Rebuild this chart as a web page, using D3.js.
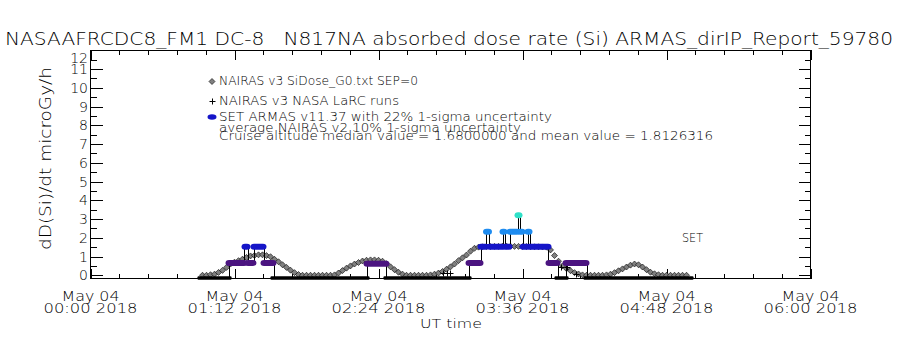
<!DOCTYPE html>
<html>
<head>
<meta charset="utf-8">
<script src="https://cdn.jsdelivr.net/npm/d3@7"></script>
<style>
  body { margin: 0; background: #fff; }
  svg { display: block; font-family: "DejaVu Sans", sans-serif; font-weight: 200; }
  text { white-space: pre; fill: #000; }
</style>
</head>
<body>
<div id="chart"></div>
<script>
// NAIRAS v3 SiDose_G0.txt SEP=0 (minutes after 00:00 UT, microGy/h)
const nairasT = [56, 58, 60, 62, 64, 66, 68, 70, 72, 74, 76, 78, 80, 82, 84, 86, 88, 90, 92, 94, 96, 98, 100, 102, 104, 106,
    108, 110, 112, 114, 116, 118, 120,
    122, 124, 126, 128, 130, 132, 134, 136, 138, 140, 142, 144, 146, 148, 150, 152, 154, 156, 158,
    160, 162, 164, 166, 168,
    170, 172, 174, 176, 178, 180, 182, 184, 186, 188, 190, 192, 194,
    196, 198, 200, 202, 204, 206, 208, 210, 212, 214, 216, 218, 220, 222, 224, 226, 228,
    230, 232, 234, 236, 238, 240, 242, 244, 246, 248,
    250, 252, 254, 256,
    258, 260, 262, 264, 266, 268, 270, 272, 274, 276, 278, 280, 282, 284, 286,
    288, 290, 292, 294, 296, 298];
const nairasV = [0, 0, 0.03, 0.06, 0.15, 0.26, 0.42, 0.6, 0.7, 0.78, 0.86, 0.95, 1.03, 1.06, 1.09, 1.09, 1.05, 0.99, 0.85, 0.72, 0.56, 0.42, 0.27, 0.14, 0.04, 0,
    0, 0, 0, 0, 0, 0, 0,
    0.02, 0.12, 0.25, 0.38, 0.5, 0.6, 0.68, 0.76, 0.8, 0.82, 0.82, 0.8, 0.75, 0.62, 0.45, 0.3, 0.16, 0.06, 0,
    0, 0, 0, 0, 0,
    0.02, 0.06, 0.12, 0.2, 0.32, 0.45, 0.6, 0.78, 0.93, 1.08, 1.28, 1.44, 1.5,
    1.52, 1.53, 1.53, 1.54, 1.54, 1.55, 1.55, 1.55, 1.54, 1.54, 1.53, 1.53, 1.52, 1.52, 1.52, 1.51, 1.5,
    1.35, 1.05, 0.75, 0.5, 0.35, 0.24, 0.14, 0.07, 0.02, 0,
    0, 0, 0, 0,
    0.02, 0.06, 0.14, 0.24, 0.34, 0.44, 0.54, 0.6, 0.56, 0.44, 0.3, 0.16, 0.08, 0.03, 0,
    0, 0, 0, 0, 0, 0];

// NAIRAS v3 NASA LaRC runs
const larcT = [176.5, 178, 179.5, 235, 238, 242.5];
const larcV = [0.12, 0.12, 0.12, 0.42, 0.42, 0.07];

// SET ARMAS readings, as runs of equal value (zero readings sit just under the axis)
const armasStart = [55, 69, 77, 78.5, 81.5, 86.5, 91.5, 138, 148, 189, 195, 197.75, 199.25, 206, 207, 209.5, 213.5, 214.5, 216, 218.5, 219.5, 229, 233.5, 237.5, 248];
const armasEnd = [69, 77, 78.5, 81.5, 86.5, 91.5, 138, 148, 189, 195, 197.75, 199.25, 206, 207, 209.5, 213.5, 214.5, 216, 218.5, 219.5, 229, 233.5, 237.5, 248, 300];
const armasV = [-0.15, 0.66, 1.52, 0.66, 1.52, 0.66, -0.15, 0.62, -0.15, 0.66, 1.52, 2.32, 1.52, 2.32, 1.52, 2.32, 3.2, 2.32, 1.52, 2.32, 1.52, 0.66, -0.15, 0.66, -0.15];

const xTickMin = [0, 72, 144, 216, 288, 360];
const xTickDate = ["May 04", "May 04", "May 04", "May 04", "May 04", "May 04"];
const xTickTime = ["00:00 2018", "01:12 2018", "02:24 2018", "03:36 2018", "04:48 2018", "06:00 2018"];
const yTicks = [0, 1, 2, 3, 4, 5, 6, 7, 8, 9, 10, 11, 12];

const legendText = [
    "NAIRAS v3 SiDose_G0.txt SEP=0",
    "NAIRAS v3 NASA LaRC runs",
    "SET ARMAS v11.37 with 22% 1-sigma uncertainty",
    "average NAIRAS v2 10% 1-sigma uncertainty",
    "Cruise altitude median value = 1.6800000 and mean value = 1.8126316"
];

const width = 900, height = 350;
const plotLeft = 90.5, plotRight = 810.5, plotTop = 50.25, plotBottom = 279;

const svg = d3.select('#chart').append('svg')
    .attr('width', width)
    .attr('height', height)
    .attr('viewBox', [0, 0, width, height]);

svg.append('rect').attr('width', width).attr('height', height).attr('fill', '#fff');

const defs = svg.append('defs');
const checker = defs.append('pattern')
    .attr('id', 'checker')
    .attr('patternUnits', 'userSpaceOnUse')
    .attr('width', 2).attr('height', 2);
checker.append('rect').attr('width', 2).attr('height', 2).attr('fill', '#fff');
checker.append('rect').attr('width', 1).attr('height', 1).attr('fill', '#000');
checker.append('rect').attr('x', 1).attr('y', 1).attr('width', 1).attr('height', 1).attr('fill', '#000');

const x = d3.scaleLinear().domain([0, 360]).range([plotLeft, plotRight]);
const y = d3.scaleLinear().domain([-0.2, 12]).range([plotBottom, plotTop]);
const level = d3.scaleThreshold()
    .domain([0, 1, 2, 3])
    .range(['#000000', '#4b1480', '#1515c8', '#1e8cf0', '#30e0c8']);

// title
svg.append('text')
    .attr('x', 5).attr('y', 45)
    .attr('font-size', 18)
    .attr('textLength', 888).attr('lengthAdjust', 'spacingAndGlyphs')
    .text('NASAAFRCDC8_FM1 DC-8   N817NA absorbed dose rate (Si) ARMAS_dirIP_Report_59780');

// axes (ticks pointing inward on all four sides)
const xMinor = d3.range(0, 360.1, 14.4);
const yMinor = d3.range(0.5, 12, 1);
const axes = svg.append('g').attr('shape-rendering', 'crispEdges');
const tickStyle = g => { g.select('.domain').remove(); g.selectAll('line').attr('stroke', '#000'); };

axes.append('g').attr('transform', `translate(0,${plotBottom})`)
    .call(d3.axisBottom(x).tickValues(xMinor).tickSize(-5).tickFormat('')).call(tickStyle);
axes.append('g').attr('transform', `translate(0,${plotBottom})`)
    .call(d3.axisBottom(x).tickValues(xTickMin).tickSize(-10).tickFormat('')).call(tickStyle);
axes.append('g').attr('transform', `translate(0,${plotTop})`)
    .call(d3.axisTop(x).tickValues(xMinor).tickSize(-5).tickFormat('')).call(tickStyle);
axes.append('g').attr('transform', `translate(0,${plotTop})`)
    .call(d3.axisTop(x).tickValues(xTickMin).tickSize(-10).tickFormat('')).call(tickStyle);
axes.append('g').attr('transform', `translate(${plotLeft},0)`)
    .call(d3.axisLeft(y).tickValues(yMinor).tickSize(-6).tickFormat('')).call(tickStyle);
axes.append('g').attr('transform', `translate(${plotLeft},0)`)
    .call(d3.axisLeft(y).tickValues(yTicks).tickSize(-12).tickFormat('')).call(tickStyle);
axes.append('g').attr('transform', `translate(${plotRight},0)`)
    .call(d3.axisRight(y).tickValues(yMinor).tickSize(-6).tickFormat('')).call(tickStyle);
axes.append('g').attr('transform', `translate(${plotRight},0)`)
    .call(d3.axisRight(y).tickValues(yTicks).tickSize(-12).tickFormat('')).call(tickStyle);

axes.append('rect')
    .attr('x', plotLeft).attr('y', plotTop + 0.25)
    .attr('width', plotRight - plotLeft).attr('height', plotBottom - plotTop - 0.5)
    .attr('fill', 'none').attr('stroke', '#000');

// y tick labels
svg.append('g').selectAll('text')
    .data(yTicks)
    .join('text')
    .attr('x', 88)
    .attr('y', d => Math.max(y(d), 57.5) + 5)
    .attr('text-anchor', 'end')
    .attr('font-size', 14)
    .text(d => d);

// x tick labels
const xl = svg.append('g').selectAll('g')
    .data(xTickMin)
    .join('g');
xl.append('text')
    .attr('x', d => x(d)).attr('y', 301)
    .attr('text-anchor', 'middle').attr('font-size', 13.5)
    .attr('textLength', 58).attr('lengthAdjust', 'spacingAndGlyphs')
    .text((d, i) => xTickDate[i]);
xl.append('text')
    .attr('x', d => x(d)).attr('y', 313)
    .attr('text-anchor', 'middle').attr('font-size', 13.5)
    .attr('textLength', 94).attr('lengthAdjust', 'spacingAndGlyphs')
    .text((d, i) => xTickTime[i]);

svg.append('text')
    .attr('x', 451).attr('y', 328)
    .attr('text-anchor', 'middle').attr('font-size', 13)
    .attr('textLength', 62).attr('lengthAdjust', 'spacingAndGlyphs')
    .text('UT time');

svg.append('text')
    .attr('transform', 'translate(51,158.5) rotate(-90)')
    .attr('text-anchor', 'middle').attr('font-size', 15)
    .attr('textLength', 183).attr('lengthAdjust', 'spacingAndGlyphs')
    .text('dD(Si)/dt microGy/h');

// NAIRAS diamonds: dithered fill with a thin outline
const diamond = 'M0,-3L3,0L0,3L-3,0Z';
svg.append('g').selectAll('path')
    .data(nairasT)
    .join('path')
    .attr('transform', (d, i) => `translate(${x(d)},${y(nairasV[i])})`)
    .attr('d', diamond)
    .attr('fill', 'url(#checker)')
    .attr('stroke', '#000')
    .attr('stroke-width', 0.6);

// NAIRAS LaRC runs
const plus = 'M-3,0H3M0,-3V3';
svg.append('g').selectAll('path')
    .data(larcT)
    .join('path')
    .attr('transform', (d, i) => `translate(${Math.round(x(d)) + 0.5},${Math.round(y(larcV[i])) + 0.5})`)
    .attr('d', plus)
    .attr('stroke', '#000').attr('fill', 'none');

// ARMAS connectors between consecutive readings
const runs = d3.range(armasV.length);
svg.append('g').selectAll('line')
    .data(runs.slice(1))
    .join('line')
    .attr('x1', i => Math.round(x(armasEnd[i - 1])) + 0.5)
    .attr('x2', i => Math.round(x(armasStart[i])) + 0.5)
    .attr('y1', i => y(armasV[i - 1]))
    .attr('y2', i => y(armasV[i]))
    .attr('stroke', '#000').attr('stroke-width', 1);

// ARMAS readings, coloured by level
svg.append('g').selectAll('rect')
    .data(runs)
    .join('rect')
    .attr('x', i => x(armasStart[i]) - 3)
    .attr('width', i => x(armasEnd[i]) - x(armasStart[i]) + 6)
    .attr('y', i => y(armasV[i]) - (armasV[i] < 0 ? 1.75 : 3))
    .attr('height', i => armasV[i] < 0 ? 3.5 : 6)
    .attr('rx', i => armasV[i] < 0 ? 1 : 3.5)
    .attr('fill', i => level(armasV[i]));

// legend
const legend = svg.append('g');
legend.append('path').attr('transform', 'translate(212,81.5)').attr('d', diamond)
    .attr('fill', 'url(#checker)').attr('stroke', '#000').attr('stroke-width', 0.6);
legend.append('path').attr('transform', 'translate(212.5,101.5)').attr('d', plus).attr('stroke', '#000');
legend.append('ellipse').attr('cx', 212).attr('cy', 117).attr('rx', 4.5).attr('ry', 2.8).attr('fill', level(1.52));
const legendY = [85, 104.5, 120.5, 132, 139.5];
const legendW = [199, 180, 333, 302, 494];
legend.selectAll('text')
    .data(legendText)
    .join('text')
    .attr('x', 219)
    .attr('y', (d, i) => legendY[i])
    .attr('font-size', 11.5)
    .attr('textLength', (d, i) => legendW[i]).attr('lengthAdjust', 'spacingAndGlyphs')
    .text(d => d);

svg.append('text')
    .attr('x', 682).attr('y', 241.5)
    .attr('font-size', 13)
    .attr('textLength', 21).attr('lengthAdjust', 'spacingAndGlyphs')
    .text('SET');
</script>
</body>
</html>
